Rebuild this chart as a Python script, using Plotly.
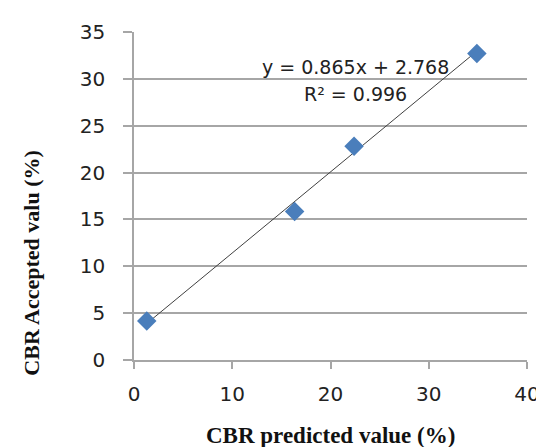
import plotly.graph_objects as go

# Data
predicted = [1.3, 16.35, 22.4, 34.9]
accepted = [4.15, 15.85, 22.8, 32.7]
slope = 0.865
intercept = 2.768
r_squared = 0.996
x_ticks = [0, 10, 20, 30, 40]
y_ticks = [0, 5, 10, 15, 20, 25, 30, 35]

trend_x = [min(predicted), max(predicted)]
trend_y = [slope * v + intercept for v in trend_x]

L, R, T, B = 126, 527, 22, 352  # plot area in pixels
W, H = 544, 447

fig = go.Figure()
fig.add_trace(go.Scatter(
    x=trend_x, y=trend_y, mode="lines",
    line=dict(color="#404040", width=1), showlegend=False, hoverinfo="skip"))
fig.add_trace(go.Scatter(
    x=predicted, y=accepted, mode="markers",
    marker=dict(symbol="diamond", size=15, color="#4a7ebb",
                line=dict(width=0)),
    showlegend=False))

tick_font = dict(family="DejaVu Sans", size=20, color="#222222")
axis_col = "#a6a6a6"
fig.update_xaxes(range=[0, 40], tickvals=x_ticks, showgrid=False,
                 showline=True, linecolor=axis_col, linewidth=1.5,
                 ticks="outside", ticklen=7, tickcolor=axis_col, tickwidth=1.5,
                 tickfont=tick_font, zeroline=False, ticklabelstandoff=8)
fig.update_yaxes(range=[0, 35], tickvals=y_ticks, showgrid=True,
                 gridcolor=axis_col, gridwidth=1.5,
                 showline=True, linecolor=axis_col, linewidth=1.5,
                 ticks="outside", ticklen=9, tickcolor=axis_col, tickwidth=1.5,
                 tickfont=tick_font, zeroline=False, ticklabelstandoff=14)

eq_font = dict(family="DejaVu Sans", size=19, color="#222222")
fig.add_annotation(x=22.5, y=31.3, xref="x", yref="y",
                   text=f"y = {slope}x + {intercept}",
                   showarrow=False, font=eq_font)
fig.add_annotation(x=22.5, y=28.35, xref="x", yref="y",
                   text=f"R² = {r_squared}",
                   showarrow=False, font=eq_font)

fig.add_annotation(
    xref="paper", yref="paper", x=0.5, y=(B - 428) / (B - T),
    xanchor="center", yanchor="middle",
    text="<b>CBR predicted value (%)</b>", showarrow=False,
    font=dict(family="Liberation Serif", size=23, color="#111111"))
fig.add_annotation(
    xref="paper", yref="paper", x=(21 - L) / (R - L), y=(B - 255) / (B - T),
    xanchor="center", yanchor="middle",
    text="<b>CBR Accepted valu (%)</b>", showarrow=False, textangle=-90,
    font=dict(family="Liberation Serif", size=22, color="#111111"))

fig.update_layout(width=W, height=H,
                  margin=dict(l=L, r=W - R, t=T, b=H - B),
                  plot_bgcolor="white", paper_bgcolor="white")
fig.write_html("out.html")
